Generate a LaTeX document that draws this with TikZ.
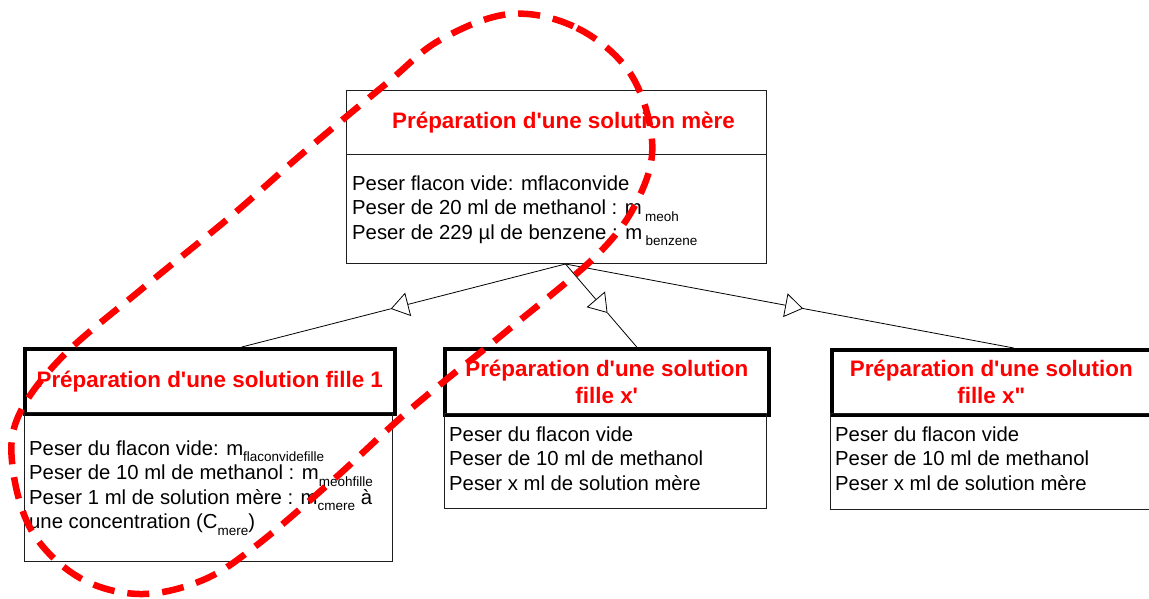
\documentclass[tikz,border=0pt]{standalone}
\usepackage{fontspec}
\setmainfont{Liberation Sans}[Ligatures=TeXOff]
\usetikzlibrary{arrows.meta,calc}
\definecolor{redx}{RGB}{255,0,0}
\definecolor{boxline}{RGB}{30,30,30}
\newcommand\sbs[1]{\raisebox{-6.5pt}[0pt][0pt]{\fontsize{13.5}{14}\selectfont #1}}
\begin{document}
\begin{tikzpicture}[x=1pt,y=-1pt,
  title/.style={text=redx,font=\fontsize{22.4}{27}\selectfont\bfseries,align=center},
  hdr/.style={title,draw=black,line width=3.5pt,inner sep=0pt,anchor=north west},
  thinhdr/.style={title,draw=boxline,line width=1pt,inner sep=0pt,anchor=north west},
  bodybox/.style={draw=boxline,line width=1pt,inner sep=0pt,anchor=north west},
  bodytext/.style={inner sep=0pt,anchor=base west,align=left,font=\fontsize{20.3}{24.5}\selectfont},
  conn/.style={line width=0.8pt,draw=black},
  gen/.style={conn,-{Triangle[open,length=18pt,width=24pt,line width=0.8pt]}},
  loopline/.style={draw=redx,line width=6.5pt,dash pattern=on 22pt off 13pt}
]
\useasboundingbox (0,0) rectangle (1149,598);

% top box
\node[thinhdr,minimum width=420pt,minimum height=64pt] (h0) at (346,90) {\hspace*{14pt}Préparation d'une solution mère};
\node[bodybox,minimum width=420pt,minimum height=109pt] (b0) at (346,154) {};
\node[bodytext] (t0) at (352,239) {Peser flacon vide: mflaconvide\\
Peser de 20 ml de methanol : m\,\sbs{meoh}\\
Peser de 229 µl de benzene : m\,\sbs{benzene}};

% child 1
\node[hdr,minimum width=370pt,minimum height=65pt] (h1) at (23,347) {Préparation d'une solution fille 1};
\node[bodybox,minimum width=368pt,minimum height=149pt] (b1) at (24,412) {};
\node[bodytext] (t1) at (29,528.5) {Peser du flacon vide: m\sbs{flaconvidefille}\\
Peser de 10 ml de methanol : m\sbs{meohfille}\\
Peser 1 ml de solution mère : m\sbs{cmere} à\\
une concentration (C\sbs{mere})};

% child 2
\node[hdr,minimum width=324pt,minimum height=66pt] (h2) at (443,347) {Préparation d'une solution\\fille x'};
\node[bodybox,minimum width=322pt,minimum height=95pt] (b2) at (444,413) {};
\node[bodytext] (t2) at (449,490) {Peser du flacon vide\\
Peser de 10 ml de methanol\\
Peser x ml de solution mère};

% child 3
\node[hdr,minimum width=330pt,minimum height=65pt] (h3) at (830,348) {\hspace*{-11pt}Préparation d'une solution\\\hspace*{-11pt}fille x"};
\node[bodybox,minimum width=330pt,minimum height=96pt] (b3) at (830,413) {};
\node[bodytext] (t3) at (835,490) {Peser du flacon vide\\
Peser de 10 ml de methanol\\
Peser x ml de solution mère};

% connectors
\coordinate (j) at ($(b0.south)+(9,0)$);
\coordinate (c1) at ($(h1.north)+(32,0)$);
\coordinate (c2) at ($(h2.north)+(30,0)$);
\coordinate (c3) at ($(h3.north)+(17,0)$);
\draw[gen] (j) -- ($(j)!0.54!(c1)$) coordinate (a1);
\draw[conn] (a1) -- (c1);
\draw[gen] (j) -- ($(j)!0.59!(c2)$) coordinate (a2);
\draw[conn] (a2) -- (c2);
\draw[gen] (j) -- ($(j)!0.53!(c3)$) coordinate (a3);
\draw[conn] (a3) -- (c3);

% red dashed loop
\draw[loopline] plot[smooth cycle, tension=0.6] coordinates {
(510,14) (577,28) (630,73) (652,140) (640,195) (600,252) (508,330) (413,407)
(333,480) (257,545) (203,580) (140,594) (80,578) (33,533) (13,470) (18,417)
(62,357) (143,288) (230,217) (303,153) (387,83) (440,40)};
\end{tikzpicture}
\end{document}
